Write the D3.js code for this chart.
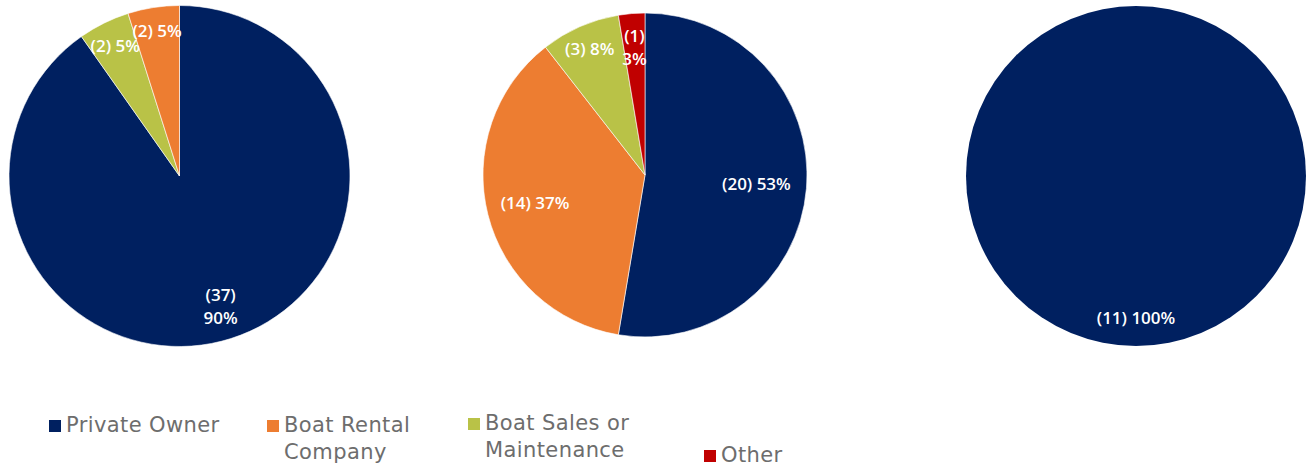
<!DOCTYPE html>
<html>
<head>
<meta charset="utf-8">
<script src="https://cdn.jsdelivr.net/npm/d3@7"></script>
<style>
  html, body { margin: 0; padding: 0; background: #ffffff; }
  svg { display: block; }
</style>
</head>
<body>
<svg id="chart" width="1308" height="466"></svg>
<script>
// Respondent categories and their colours
const categories = ["Private Owner", "Boat Rental Company", "Boat Sales or Maintenance", "Other"];
const legendLines = [["Private Owner"], ["Boat Rental", "Company"], ["Boat Sales or", "Maintenance"], ["Other"]];
const colors = ["#002060", "#ED7D31", "#B9C247", "#C00000"];

// Counts per pie (slice order clockwise from 12 o'clock)
const pie1Order = ["Private Owner", "Boat Sales or Maintenance", "Boat Rental Company"];
const pie1Counts = [37, 2, 2];
const pie1Labels = [["(37)", "90%"], ["(2) 5%"], ["(2) 5%"]];

const pie2Order = ["Private Owner", "Boat Rental Company", "Boat Sales or Maintenance", "Other"];
const pie2Counts = [20, 14, 3, 1];
const pie2Labels = [["(20) 53%"], ["(14) 37%"], ["(3) 8%"], ["(1)", "3%"]];

const pie3Order = ["Private Owner"];
const pie3Counts = [11];
const pie3Labels = [["(11) 100%"]];

const svg = d3.select("#chart");
const color = d3.scaleOrdinal().domain(categories).range(colors);

// Layout of each pie: centre, radius and label distance (fraction of radius)
const pies = [
  { order: pie1Order, counts: pie1Counts, labels: pie1Labels, cx: 179.5, cy: 176, r: 170.5, lr: [0.8, 0.85, 0.86] },
  { order: pie2Order, counts: pie2Counts, labels: pie2Labels, cx: 645, cy: 175, r: 162, lr: [0.69, 0.7, 0.85, 0.79] },
  { order: pie3Order, counts: pie3Counts, labels: pie3Labels, cx: 1136, cy: 176, r: 170, lr: [0.835] }
];

const pieGen = d3.pie().sort(null).value(d => d.count);

pies.forEach(p => {
  const data = p.order.map((name, i) => ({ name, count: p.counts[i], label: p.labels[i], lr: p.lr[i] }));
  const arcs = pieGen(data);
  const arc = d3.arc().innerRadius(0).outerRadius(p.r);
  const g = svg.append("g").attr("transform", `translate(${p.cx},${p.cy})`);

  g.selectAll("path")
    .data(arcs)
    .join("path")
    .attr("d", arc)
    .attr("fill", d => color(d.data.name))
    .attr("stroke", "#ffffff")
    .attr("stroke-width", arcs.length > 1 ? 0.6 : 0);

  const lab = g.selectAll("text")
    .data(arcs)
    .join("text")
    .attr("transform", d => {
      const rr = p.r * d.data.lr;
      const c = d3.arc().innerRadius(rr).outerRadius(rr).centroid(d);
      return `translate(${c[0]},${c[1]})`;
    })
    .attr("text-anchor", "middle")
    .attr("fill", "#ffffff")
    .attr("font-family", "'Open Sans', sans-serif")
    .attr("font-weight", 600)
    .attr("font-size", 17);

  lab.each(function(d) {
    const lines = d.data.label;
    const n = lines.length;
    d3.select(this).selectAll("tspan")
      .data(lines)
      .join("tspan")
      .attr("x", 0)
      .attr("y", (t, i) => (i - (n - 1) / 2) * 23 + 6)
      .text(t => t);
  });
});

// Legend
const legendX = [49, 267, 468, 704];
const legendY = [432, 432, 430, 462];
const legend = svg.append("g")
  .attr("font-family", "'DejaVu Sans', sans-serif")
  .attr("font-size", 21)
  .attr("letter-spacing", 0.4)
  .attr("fill", "#6d6d6d");

categories.forEach((name, i) => {
  const item = legend.append("g").attr("transform", `translate(${legendX[i]},${legendY[i]})`);
  item.append("rect")
    .attr("x", 0).attr("y", -12)
    .attr("width", 12).attr("height", 12)
    .attr("fill", color(name));
  const t = item.append("text").attr("x", 17).attr("y", 0);
  legendLines[i].forEach((line, j) => {
    t.append("tspan").attr("x", 17).attr("y", j * 27).text(line);
  });
});
</script>
</body>
</html>
